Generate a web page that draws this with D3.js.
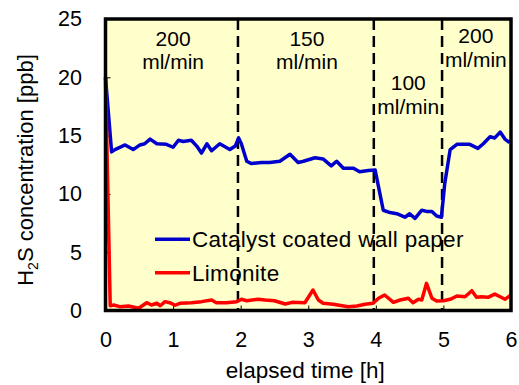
<!DOCTYPE html>
<html>
<head>
<meta charset="utf-8">
<script src="https://cdn.jsdelivr.net/npm/d3@7"></script>
<style>
    body { margin: 0; background: #fff; }
    text { font-family: "Liberation Sans", Arial, sans-serif; fill: #000; }
</style>
</head>
<body>
<div class="container"></div>
<script>
const WIDTH = 519;
const HEIGHT = 385;
const LEFT = 105.5, RIGHT = 511, TOP = 19, BOTTOM = 310.5;

// elapsed time [h] and H2S concentration [ppb]
var wallpaperTime = [0, 0.09, 0.14, 0.29, 0.41, 0.51, 0.58, 0.66, 0.76, 0.9, 1.0, 1.08, 1.15, 1.27, 1.35, 1.42, 1.5,
    1.57, 1.69, 1.84, 1.92, 1.97, 2.01, 2.09, 2.16, 2.31, 2.43, 2.58, 2.73, 2.85, 2.93, 3.1, 3.22, 3.34, 3.42, 3.52,
    3.67, 3.76, 3.89, 3.99, 4.04, 4.11, 4.21, 4.31, 4.43, 4.5, 4.58, 4.68, 4.75, 4.83, 4.9, 4.97, 5.02, 5.1, 5.2,
    5.29, 5.39, 5.51, 5.59, 5.69, 5.76, 5.84, 5.91, 5.98];
var wallpaperPpb = [20, 13.6, 13.8, 14.2, 13.8, 14.2, 14.3, 14.7, 14.3, 14.25, 14.0, 14.6, 14.5, 14.6, 14.1, 13.5, 14.3,
    13.7, 14.3, 13.8, 14.1, 14.8, 14.3, 12.8, 12.6, 12.7, 12.7, 12.8, 13.4, 12.7, 12.8, 13.1, 13.0, 12.4, 12.8, 12.2,
    12.2, 11.9, 12.0, 12.05, 10.6, 8.6, 8.4, 8.3, 8.0, 8.3, 7.9, 8.6, 8.5, 8.5, 8.1, 8.0, 10.9, 13.8, 14.25,
    14.25, 14.25, 13.9, 14.3, 14.9, 14.8, 15.3, 14.7, 14.4];

var limoniteTime = [0, 0.07, 0.12, 0.21, 0.34, 0.49, 0.61, 0.68, 0.76, 0.81, 0.88, 0.95, 1.03, 1.1, 1.27, 1.42, 1.57,
    1.64, 1.79, 1.94, 2.01, 2.09, 2.26, 2.36, 2.5, 2.66, 2.76, 2.95, 3.07, 3.15, 3.22, 3.37, 3.59, 3.72, 3.84, 3.96,
    4.04, 4.13, 4.26, 4.36, 4.48, 4.55, 4.63, 4.68, 4.75, 4.83, 4.9, 5.0, 5.1, 5.2, 5.32, 5.42, 5.49, 5.56, 5.66,
    5.76, 5.84, 5.91, 6.0];
var limonitePpb = [20, 0.4, 0.47, 0.33, 0.39, 0.19, 0.67, 0.47, 0.62, 0.41, 0.76, 0.67, 0.45, 0.62, 0.67, 0.76, 0.9,
    0.67, 0.67, 0.76, 0.96, 0.84, 0.96, 0.9, 0.84, 0.56, 0.7, 0.67, 1.76, 0.9, 0.62, 0.53, 0.33, 0.39, 0.53, 0.62,
    1.05, 1.33, 0.7, 0.9, 1.05, 0.67, 0.96, 0.9, 2.33, 1.05, 0.81, 0.84, 0.96, 1.24, 1.18, 1.7, 1.13, 1.18, 1.13,
    1.41, 1.18, 0.96, 1.33];

var flowChanges = [1.96, 3.97, 4.98];
var flowLabels = [
    {t: 1.0, v: 22.7, rate: "200"},
    {t: 2.98, v: 22.7, rate: "150"},
    {t: 4.48, v: 18.9, rate: "100"},
    {t: 5.48, v: 22.9, rate: "200"}
];
var xTicks = [0, 1, 2, 3, 4, 5, 6];
var yTicks = [0, 5, 10, 15, 20, 25];

var seriesNames = ["Catalyst coated wall paper", "Limonite"];
var seriesColors = ["#0000cc", "#ff0000"];

var xScale, yScale, svg;

var translate = function (x, y) {
    return "translate(" + x + "," + y + ")";
};

var zip = function (ts, vs) {
    return ts.map(function (t, i) { return [t, vs[i]]; });
};

var generateChart = function () {
    svg = d3.select(".container").append("svg")
        .attr("width", WIDTH)
        .attr("height", HEIGHT);

    xScale = d3.scaleLinear().domain([0, 6]).range([LEFT, RIGHT]);
    yScale = d3.scaleLinear().domain([0, 25]).range([BOTTOM, TOP]);

    svg.append("rect")
        .attr("x", LEFT).attr("y", TOP)
        .attr("width", RIGHT - LEFT).attr("height", BOTTOM - TOP)
        .attr("fill", "#ffffcc");

    var xAxis = d3.axisBottom(xScale).tickValues(xTicks).tickFormat(d3.format("d"))
        .tickSize(-5).tickPadding(21.5);
    var yAxis = d3.axisLeft(yScale).tickValues(yTicks).tickFormat(d3.format("d"))
        .tickSize(-5).tickPadding(23.5);

    var gx = svg.append("g").attr("transform", translate(0, BOTTOM)).call(xAxis);
    var gy = svg.append("g").attr("transform", translate(LEFT, 0)).call(yAxis);
    [gx, gy].forEach(function (g) {
        g.select(".domain").remove();
        g.selectAll("line").attr("stroke", "#000").attr("stroke-width", 1);
        g.selectAll("text").attr("font-size", 21.5).attr("fill", "#000")
            .style("font-family", "'Liberation Sans', Arial, sans-serif");
    });

    // flow rate change lines
    svg.append("g").selectAll("line")
        .data(flowChanges)
        .enter().append("line")
        .attr("x1", function (d) { return xScale(d); })
        .attr("x2", function (d) { return xScale(d); })
        .attr("y1", TOP)
        .attr("y2", BOTTOM)
        .attr("stroke", "#000")
        .attr("stroke-width", 2.5)
        .attr("stroke-dasharray", "11,6");

    var labels = svg.append("g").selectAll("text")
        .data(flowLabels)
        .enter().append("text")
        .attr("text-anchor", "middle")
        .attr("font-size", 21)
        .attr("transform", function (d) { return translate(xScale(d.t), yScale(d.v)); });
    labels.append("tspan").attr("x", 0).attr("y", 0).text(function (d) { return d.rate; });
    labels.append("tspan").attr("x", 0).attr("y", 23.5).text("ml/min");

    var line = d3.line()
        .x(function (d) { return xScale(d[0]); })
        .y(function (d) { return yScale(d[1]); });

    var series = [zip(wallpaperTime, wallpaperPpb), zip(limoniteTime, limonitePpb)];

    svg.append("g").selectAll("path")
        .data(series)
        .enter().append("path")
        .attr("d", line)
        .attr("fill", "none")
        .attr("stroke", function (d, i) { return seriesColors[i]; })
        .attr("stroke-width", 3.5)
        .attr("stroke-linejoin", "round");

    // legend
    var legend = svg.append("g").selectAll("g")
        .data(seriesNames)
        .enter().append("g")
        .attr("transform", function (d, i) { return translate(155, 239.3 + i * 33.5); });
    legend.append("line")
        .attr("x1", 0).attr("x2", 35)
        .attr("stroke", function (d, i) { return seriesColors[i]; })
        .attr("stroke-width", 3.5);
    legend.append("text")
        .attr("x", 37).attr("y", 8)
        .attr("font-size", 22.5)
        .attr("letter-spacing", 0.3)
        .text(function (d) { return d; });

    svg.append("rect")
        .attr("x", LEFT).attr("y", TOP)
        .attr("width", RIGHT - LEFT).attr("height", BOTTOM - TOP)
        .attr("fill", "none")
        .attr("stroke", "#000")
        .attr("stroke-width", 3.5);

    svg.append("text")
        .attr("x", (LEFT + RIGHT) / 2 - 3)
        .attr("y", 378)
        .attr("text-anchor", "middle")
        .attr("font-size", 22.5)
        .text("elapsed time [h]");

    var ylab = svg.append("text")
        .attr("transform", translate(33, 170) + " rotate(-90)")
        .attr("text-anchor", "middle")
        .attr("font-size", 22);
    ylab.append("tspan").text("H");
    ylab.append("tspan").attr("font-size", 14).attr("dy", 5).text("2");
    ylab.append("tspan").attr("dy", -5).text("S concentration [ppb]");
};

window.onload = generateChart;
</script>
</body>
</html>
